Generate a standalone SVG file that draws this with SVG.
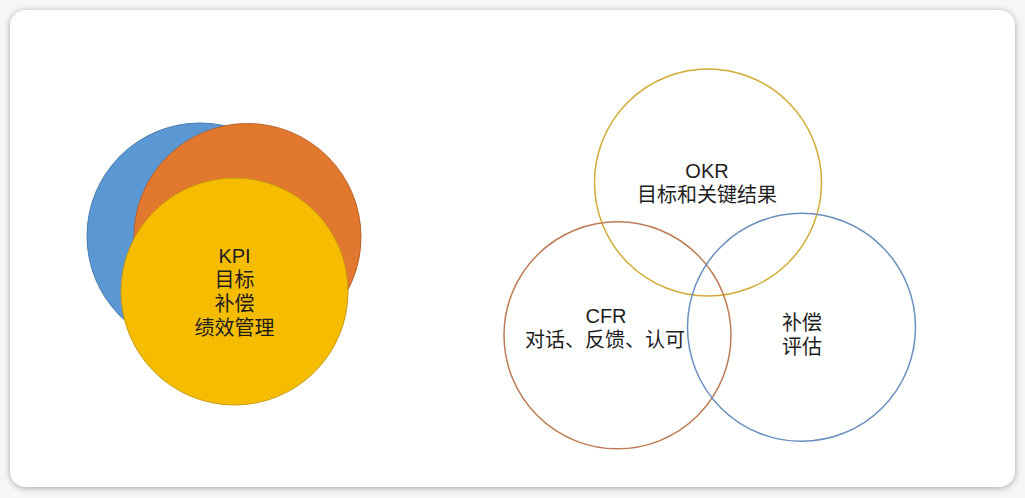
<svg xmlns="http://www.w3.org/2000/svg" width="1025" height="498" viewBox="0 0 1025 498">
<defs>
<filter id="shadow" x="-5%" y="-5%" width="110%" height="110%">
<feGaussianBlur in="SourceAlpha" stdDeviation="3"/>
<feOffset dx="0" dy="1" result="b"/>
<feComponentTransfer><feFuncA type="linear" slope="0.35"/></feComponentTransfer>
<feMerge><feMergeNode/><feMergeNode in="SourceGraphic"/></feMerge>
</filter>
<style>
text{font-family:"Liberation Sans","Noto Sans CJK SC",sans-serif;font-size:20px;fill:#1e1e1e;text-anchor:middle}
.ring{fill:none;stroke-width:1.5}
</style>
</defs>
<rect x="0" y="0" width="1025" height="498" fill="#f6f6f6"/>
<rect x="10" y="10" width="1005" height="477" rx="16" fill="#ffffff" filter="url(#shadow)"/>
<g id="kpi-blue"><circle cx="200" cy="236" r="113" fill="#5B97D3" stroke="#4A7DB0" stroke-width="1"/></g>
<g id="kpi-orange"><circle cx="247.5" cy="237" r="113.5" fill="#E1782D" stroke="#B8632A" stroke-width="1"/></g>
<g id="kpi-yellow"><circle cx="234.5" cy="291.5" r="113.5" fill="#F6BD00" stroke="#C99A10" stroke-width="1"/>
<text x="234.5" y="263">KPI</text>
<text x="234.5" y="287">目标</text>
<text x="234.5" y="311">补偿</text>
<text x="234.5" y="335">绩效管理</text>
</g>
<g id="okr"><circle class="ring" cx="708" cy="182.5" r="113.5" stroke="#D2AB35"/>
<text x="707" y="178">OKR</text>
<text x="707" y="202">目标和关键结果</text>
</g>
<g id="cfr"><circle class="ring" cx="617.5" cy="335.3" r="113.5" stroke="#BC7B52"/>
<text x="606" y="323">CFR</text>
<text x="605" y="347">对话、反馈、认可</text>
</g>
<g id="comp"><circle class="ring" cx="801.5" cy="327.3" r="114" stroke="#6A8FBF"/>
<text x="802" y="330">补偿</text>
<text x="802" y="354">评估</text>
</g>
<g id="connectors"/>
</svg>
